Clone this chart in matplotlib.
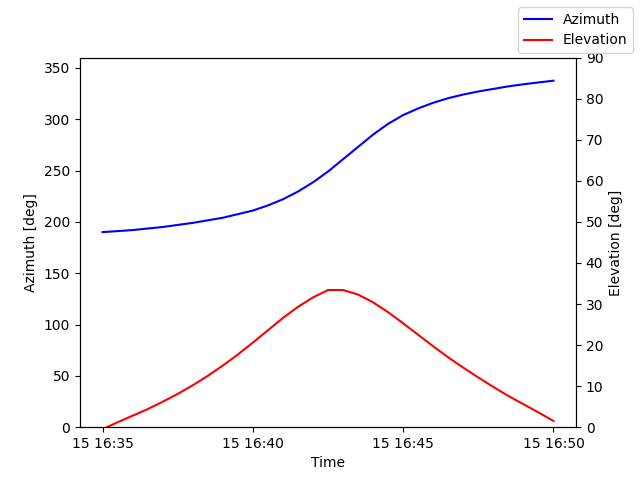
import matplotlib
matplotlib.use("Agg")
import matplotlib.pyplot as plt
import matplotlib.dates as mdates
import numpy as np
from datetime import datetime, timedelta

start = datetime(2024, 1, 15, 16, 35, 0)
times = [start + timedelta(seconds=30 * i) for i in range(31)]
azimuth = [190, 191, 192, 193.5, 195, 197, 199, 201.5, 204, 207.5, 211,
           216, 222, 229.5, 238.5, 249, 261, 273, 285, 295.5, 304,
           310.5, 316, 320.5, 324, 327, 329.5, 332, 334, 335.8, 337.5]
elevation = [-0.5, 1.2, 2.8, 4.4, 6.2, 8.1, 10.2, 12.5, 15.0, 17.7, 20.6,
             23.6, 26.6, 29.3, 31.6, 33.4, 33.4, 32.3, 30.4, 28.0, 25.3,
             22.5, 19.7, 17.0, 14.5, 12.1, 9.8, 7.6, 5.6, 3.6, 1.5]

fig, ax = plt.subplots(figsize=(6.4, 4.8), dpi=100)
l1, = ax.plot(times, azimuth, color="blue", label="Azimuth")
ax.set_ylim(0, 360)
ax.set_ylabel("Azimuth [deg]")
ax.set_xlabel("Time")
ax2 = ax.twinx()
l2, = ax2.plot(times, elevation, color="red", label="Elevation")
ax2.set_ylim(0, 90)
ax2.set_ylabel("Elevation [deg]")
ax.xaxis.set_major_locator(mdates.MinuteLocator(byminute=range(0, 60, 5)))
ax.xaxis.set_major_formatter(mdates.DateFormatter("%d %H:%M"))
fig.legend(handles=[l1, l2], loc="upper right")
fig.subplots_adjust(left=0.125, right=0.9, top=0.88, bottom=0.11)
fig.savefig("out.png")
